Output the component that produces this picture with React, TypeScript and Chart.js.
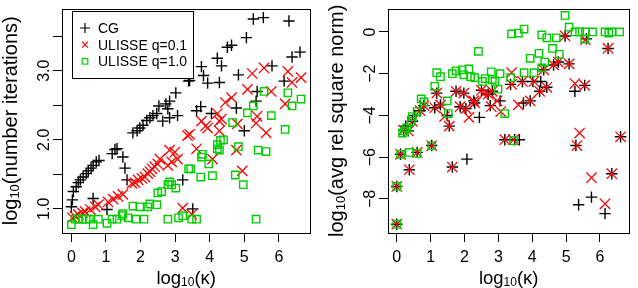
import React, { useEffect, useRef } from "react";
import { Chart, registerables } from "chart.js";
Chart.register(...registerables);

const FONT = '"Liberation Sans", Arial, Helvetica, sans-serif';
const COL_CG = "#000000";
const COL_U01 = "#ff0000";
const COL_U10 = "#00cd00";
const seriesNames = ["CG", "ULISSE q=0.1", "ULISSE q=1.0"];

const xTicks = [0, 1, 2, 3, 4, 5, 6];
const leftYTicks = [1.0, 1.5, 2.0, 2.5, 3.0, 3.5];
const leftYTickLabels = ["1.0", "", "2.0", "", "3.0", ""];
const rightYTicks = [-8, -6, -4, -2, 0];
const rightYTickLabels = ["\u22128", "\u22126", "\u22124", "\u22122", "0"];

type Pt = [number, number];

// Left panel: log10(kappa) vs log10(number iterations)
const leftCG: Pt[] = [
  [0, 1.03], [0.03, 1.13], [0.06, 1.25], [0.14, 1.32], [0.2, 1.38], [0.26, 1.42], [0.34, 1.46],
  [0.43, 1.51], [0.49, 1.55], [0.57, 1.59], [0.63, 1.63], [0.72, 1.68], [0.8, 1.7], [1.18, 1.8],
  [1.26, 1.86], [1.32, 1.87], [1.49, 1.75], [1.55, 1.59], [0.63, 1.15], [1.03, 0.99], [1.61, 1.42],
  [3.22, 1.42], [3.51, 1.0], [1.78, 2.1], [1.9, 2.13], [1.98, 2.17], [2.07, 2.21], [2.18, 2.28],
  [2.27, 2.32], [2.36, 2.35], [2.47, 2.38], [2.64, 2.27], [2.84, 2.32], [3.07, 2.35], [2.53, 2.49],
  [2.73, 2.52], [2.79, 2.45], [2.84, 2.56], [3.02, 2.68], [3.39, 2.85], [3.42, 2.86], [3.62, 2.42],
  [3.74, 2.48], [4.05, 2.38], [3.76, 3.06], [3.82, 2.93], [3.94, 2.82], [4.22, 3.18], [4.34, 3.07],
  [4.28, 2.83], [4.51, 3.34], [4.63, 3.37], [4.77, 2.46], [4.83, 2.94], [5.0, 2.13], [5.06, 3.48],
  [5.26, 3.75], [5.55, 3.77], [5.34, 2.56], [5.37, 2.7], [5.8, 3.07], [6.15, 2.85], [6.29, 3.72],
  [6.38, 3.2], [6.61, 3.27],
];
const leftU01: Pt[] = [
  [5.23, 2.96], [5.57, 3.04], [6.26, 2.99], [6.64, 2.9], [6.38, 2.83], [5.09, 2.73], [5.78, 2.7],
  [4.63, 2.61], [4.45, 2.54], [6.18, 2.52], [4.22, 2.38], [4.34, 2.3], [4.28, 2.27], [3.76, 2.27],
  [3.88, 2.2], [3.94, 2.17], [4.8, 2.23], [5.37, 2.34], [5.34, 2.24], [5.63, 2.1], [4.28, 2.13],
  [3.36, 2.06], [3.42, 2.08], [3.62, 1.87], [4.77, 1.85], [4.08, 1.72], [4.94, 1.55], [2.84, 1.85],
  [2.99, 1.82], [3.07, 1.72], [2.9, 1.68], [2.79, 1.63], [2.56, 1.72], [2.5, 1.65], [2.41, 1.61],
  [2.33, 1.58], [2.27, 1.54], [2.21, 1.51], [2.13, 1.46], [2.04, 1.44], [1.93, 1.42], [1.84, 1.38],
  [1.75, 1.37], [1.49, 1.21], [1.35, 1.18], [1.21, 1.14], [1.06, 1.1], [0.78, 1.06], [0.69, 1.03],
  [0.55, 0.99], [0.4, 0.96], [0.32, 0.94], [0.2, 0.92], [0.11, 0.89], [0.03, 0.87], [3.22, 1.01],
  [3.48, 0.92],
];
const leftU10: Pt[] = [
  [5.57, 2.7], [6.26, 2.68], [5.26, 2.49], [6.38, 2.49], [6.64, 2.59], [5.09, 2.39], [5.78, 2.35],
  [4.66, 2.25], [6.18, 2.15], [4.83, 1.9], [4.4, 2.0], [4.31, 1.99], [4.22, 1.93], [4.22, 1.87],
  [4.28, 1.85], [5.4, 1.85], [5.63, 1.83], [3.79, 1.79], [3.76, 1.75], [3.97, 1.65], [3.39, 1.58],
  [3.45, 1.58], [3.74, 1.46], [4.08, 1.48], [4.74, 1.49], [4.97, 1.35], [2.84, 1.39], [2.79, 1.35],
  [2.9, 1.35], [3.02, 1.3], [2.61, 1.25], [2.5, 1.23], [1.78, 1.04], [1.98, 1.03], [2.27, 1.07],
  [2.21, 1.03], [2.47, 1.06], [1.49, 0.93], [1.47, 0.9], [3.22, 0.9], [3.1, 0.87], [2.79, 0.85],
  [1.64, 0.87], [1.87, 0.85], [2.1, 0.85], [1.18, 0.85], [1.32, 0.85], [1.03, 0.79], [3.48, 0.85],
  [3.62, 0.85], [5.34, 0.85], [0, 0.77], [0.11, 0.85], [0.2, 0.85], [0.32, 0.85], [0.43, 0.85],
  [0.52, 0.85], [0.63, 0.77], [0.78, 0.85],
];

// Right panel: log10(kappa) vs log10(avg rel square norm)
const rightCG: Pt[] = [
  [0, -9.21], [0, -7.4], [0.11, -5.86], [0.37, -6.6], [0.6, -5.77], [1.03, -5.44], [0.2, -4.7],
  [0.34, -4.74], [0.26, -4.51], [0.46, -4.28], [0.52, -4.0], [0.69, -3.77], [0.8, -3.53],
  [1.12, -3.63], [1.29, -3.49], [1.18, -2.93], [1.49, -4.0], [1.55, -4.51], [1.75, -2.84],
  [1.98, -2.93], [1.87, -3.58], [2.04, -3.67], [2.27, -3.3], [2.3, -3.4], [2.44, -4.09],
  [2.5, -2.79], [2.7, -2.98], [2.82, -2.84], [2.76, -3.53], [3.05, -3.3], [3.36, -2.51],
  [3.71, -2.37], [3.74, -3.4], [4.02, -2.37], [4.25, -2.37], [4.22, -2.84], [4.43, -2.65],
  [4.34, -1.81], [4.63, -1.58], [4.77, -1.44], [5.09, -1.53], [4.97, -0.19], [5.6, -0.33],
  [6.24, -0.79], [5.26, -2.84], [5.55, -2.56], [3.19, -5.16], [3.48, -5.16], [3.62, -5.16],
  [3.94, -3.3], [5.29, -5.44], [6.61, -5.02], [1.64, -6.47], [2.07, -6.09], [6.35, -6.79],
  [5.75, -7.91], [5.37, -8.28], [6.15, -8.7],
];
const rightU01: Pt[] = [
  [0, -9.21], [0, -7.4], [0.11, -5.86], [0.37, -6.6], [0.6, -5.77], [1.03, -5.44], [0.2, -4.7],
  [0.34, -4.74], [0.46, -4.28], [0.69, -3.77], [0.8, -3.53], [1.12, -3.63], [1.29, -3.49],
  [1.18, -2.93], [1.41, -4.05], [1.55, -4.51], [1.75, -2.84], [1.98, -2.93], [1.87, -3.58],
  [2.04, -3.67], [2.13, -4.09], [2.27, -3.3], [2.3, -3.4], [2.5, -2.79], [2.56, -2.98],
  [2.7, -2.98], [2.82, -2.84], [2.79, -3.58], [2.96, -3.3], [3.07, -3.81], [3.39, -1.95],
  [3.39, -2.51], [3.59, -3.49], [3.71, -2.37], [3.94, -3.3], [4.05, -2.37], [4.22, -2.84],
  [4.43, -2.65], [4.34, -1.81], [4.63, -1.58], [4.77, -1.44], [5.09, -1.53], [4.97, -0.19],
  [5.57, -0.37], [6.24, -0.79], [5.26, -2.47], [5.55, -2.56], [5.4, -4.84], [5.32, -5.44],
  [3.19, -5.16], [3.45, -5.16], [6.61, -5.02], [1.64, -6.47], [6.35, -6.79], [5.75, -6.98],
  [6.15, -8.23],
];
const rightU10: Pt[] = [
  [0, -9.21], [0, -7.4], [0.11, -5.86], [0.37, -5.77], [0.6, -5.81], [1.03, -5.44], [0.17, -4.84],
  [0.23, -4.74], [0.29, -4.6], [0.43, -4.28], [0.46, -4.05], [0.6, -3.81], [0.72, -3.21],
  [0.8, -3.35], [1.12, -2.6], [1.18, -1.95], [1.29, -2.14], [1.49, -3.3], [1.52, -3.91],
  [1.64, -2.0], [1.75, -1.86], [1.93, -1.81], [2.13, -1.77], [1.98, -2.05], [2.18, -2.14],
  [2.3, -2.19], [2.41, -0.93], [2.53, -2.37], [2.61, -2.23], [2.79, -1.91], [2.82, -2.28],
  [2.9, -2.37], [2.99, -2.74], [3.05, -2.0], [3.19, -3.91], [3.36, -2.19], [3.39, -0.09],
  [3.59, -0.05], [3.76, 0.14], [3.76, -1.95], [3.94, -1.26], [4.05, -1.95], [4.2, -1.02],
  [4.28, -0.14], [4.28, -1.72], [4.37, -1.44], [4.43, -0.28], [4.6, -0.79], [4.71, -0.28],
  [4.8, -1.07], [4.97, 0.79], [5.09, 0.23], [5.26, 0], [5.4, 0], [5.57, 0], [5.78, 0],
  [5.55, -0.33], [6.15, 0], [6.26, -0.05], [6.35, 0], [6.58, 0], [3.45, -5.21],
];

interface PanelCfg {
  xMin: number; xMax: number; yMin: number; yMax: number;
  yTicks: number[]; yTickLabels: string[]; yTitleRest: string;
  cg: Pt[]; u01: Pt[]; u10: Pt[];
  axisLeft: number; padRight: number; legend: boolean;
}

const leftCfg: PanelCfg = {
  xMin: -0.27, xMax: 6.91, yMin: 0.65, yMax: 3.9,
  yTicks: leftYTicks, yTickLabels: leftYTickLabels, yTitleRest: "(number iterations)",
  cg: leftCG, u01: leftU01, u10: leftU10, axisLeft: 62, padRight: 8, legend: true,
};
const rightCfg: PanelCfg = {
  xMin: -0.26, xMax: 6.87, yMin: -9.63, yMax: 1.12,
  yTicks: rightYTicks, yTickLabels: rightYTickLabels, yTitleRest: "(avg rel square norm)",
  cg: rightCG, u01: rightU01, u10: rightU10, axisLeft: 69, padRight: 2, legend: false,
};

function drawLogTitle(ctx: CanvasRenderingContext2D, rest: string, px: number, py: number, rotate: boolean, size: number) {
  ctx.save();
  ctx.fillStyle = "#000";
  const big = `${size}px ${FONT}`;
  const small = `${Math.round(size * 0.66)}px ${FONT}`;
  ctx.font = big;
  const w1 = ctx.measureText("log").width;
  const w3 = ctx.measureText(rest).width;
  ctx.font = small;
  const w2 = ctx.measureText("10").width;
  const total = w1 + w2 + w3;
  ctx.translate(px, py);
  if (rotate) ctx.rotate(-Math.PI / 2);
  ctx.textBaseline = "alphabetic";
  ctx.textAlign = "left";
  let x = -total / 2;
  ctx.font = big;
  ctx.fillText("log", x, 0);
  x += w1;
  ctx.font = small;
  ctx.fillText("10", x, 2);
  x += w2;
  ctx.font = big;
  ctx.fillText(rest, x, 0);
  ctx.restore();
}

function makeDecor(cfg: PanelCfg) {
  return {
    id: "decor",
    afterDatasetsDraw(chart: any) {
      const ctx: CanvasRenderingContext2D = chart.ctx;
      const a = chart.chartArea;
      const ys = chart.scales.y;
      ctx.save();
      // plot box
      ctx.strokeStyle = "#000";
      ctx.lineWidth = 1;
      const l = Math.round(a.left), t = Math.round(a.top), r = Math.round(a.right), b = Math.round(a.bottom);
      ctx.strokeRect(l + 0.5, t + 0.5, r - l, b - t);
      // y tick labels (rotated, R style)
      ctx.fillStyle = "#000";
      ctx.font = `16px ${FONT}`;
      ctx.textAlign = "center";
      ctx.textBaseline = "alphabetic";
      cfg.yTicks.forEach((v, i) => {
        const lab = cfg.yTickLabels[i];
        if (!lab) return;
        const py = ys.getPixelForValue(v);
        ctx.save();
        ctx.translate(a.left - 13, py);
        ctx.rotate(-Math.PI / 2);
        ctx.fillText(lab, 0, 0);
        ctx.restore();
      });
      // axis titles
      drawLogTitle(ctx, "(\u03ba)", (a.left + a.right) / 2, 284, false, 18.5);
      drawLogTitle(ctx, cfg.yTitleRest, a.left - 45, (a.top + a.bottom) / 2, true, 20);
      // legend
      if (cfg.legend) {
        const lx = l + 10, ly = t + 2, lw = 121, lh = 67;
        ctx.fillStyle = "#fff";
        ctx.fillRect(lx, ly, lw, lh);
        ctx.strokeStyle = "#000";
        ctx.strokeRect(lx + 0.5, ly + 0.5, lw, lh);
        const sx = l + 23;
        const rows = [t + 19, t + 35.7, t + 52.3];
        ctx.lineWidth = 1.2;
        ctx.strokeStyle = COL_CG;
        ctx.beginPath();
        ctx.moveTo(sx - 5, rows[0]); ctx.lineTo(sx + 5, rows[0]);
        ctx.moveTo(sx, rows[0] - 5); ctx.lineTo(sx, rows[0] + 5);
        ctx.stroke();
        ctx.strokeStyle = COL_U01;
        ctx.beginPath();
        ctx.moveTo(sx - 3, rows[1] - 3); ctx.lineTo(sx + 3, rows[1] + 3);
        ctx.moveTo(sx - 3, rows[1] + 3); ctx.lineTo(sx + 3, rows[1] - 3);
        ctx.stroke();
        ctx.strokeStyle = COL_U10;
        ctx.strokeRect(sx - 2.8, rows[2] - 2.8, 5.6, 5.6);
        ctx.fillStyle = "#000";
        ctx.font = `14px ${FONT}`;
        ctx.textAlign = "left";
        ctx.textBaseline = "alphabetic";
        seriesNames.forEach((n, i) => ctx.fillText(n, l + 36, rows[i] + 5));
      }
      ctx.restore();
    },
  };
}

function Panel({ cfg, left }: { cfg: PanelCfg; left: number }) {
  const ref = useRef<HTMLCanvasElement>(null);
  useEffect(() => {
    const toData = (arr: Pt[]) => arr.map(([x, y]) => ({ x, y }));
    const grid = { display: true, drawOnChartArea: false, drawTicks: true, tickLength: 9, color: "#000", lineWidth: 1 };
    const chart = new Chart(ref.current!, {
      type: "scatter",
      data: {
        datasets: [
          { label: seriesNames[0], data: toData(cfg.cg), pointStyle: "cross", pointRadius: 5.7, borderColor: COL_CG, backgroundColor: COL_CG, borderWidth: 1.4, order: 3 },
          { label: seriesNames[1], data: toData(cfg.u01), pointStyle: "crossRot", pointRadius: 7.3, borderColor: COL_U01, backgroundColor: COL_U01, borderWidth: 1.3, order: 2 },
          { label: seriesNames[2], data: toData(cfg.u10), pointStyle: "rect", pointRadius: 5.2, borderColor: COL_U10, backgroundColor: "rgba(0,0,0,0)", borderWidth: 1.4, order: 1 },
        ],
      } as any,
      options: {
        animation: false,
        responsive: false,
        devicePixelRatio: 1,
        layout: { padding: { top: 2, right: cfg.padRight, bottom: 0, left: 0 } },
        plugins: { legend: { display: false }, tooltip: { enabled: false } },
        scales: {
          x: {
            type: "linear", position: "bottom", min: cfg.xMin, max: cfg.xMax, bounds: "data",
            afterBuildTicks: (s: any) => { s.ticks = xTicks.map((v) => ({ value: v })); },
            afterFit: (s: any) => { s.height = 55; },
            grid, border: { display: false },
            ticks: { color: "#000", font: { family: FONT, size: 16 }, padding: 6, maxRotation: 0, minRotation: 0, autoSkip: false, callback: (v: any) => String(v) },
          },
          y: {
            type: "linear", position: "left", min: cfg.yMin, max: cfg.yMax, bounds: "data",
            afterBuildTicks: (s: any) => { s.ticks = cfg.yTicks.map((v) => ({ value: v })); },
            afterFit: (s: any) => { s.width = cfg.axisLeft; },
            grid, border: { display: false },
            ticks: { display: false },
          },
        },
      } as any,
      plugins: [makeDecor(cfg)],
    });
    return () => chart.destroy();
  }, [cfg]);
  return (
    <canvas ref={ref} width={319} height={288}
      style={{ position: "absolute", left, top: 0, width: 319, height: 288, display: "block" }} />
  );
}

export default function App() {
  return (
    <div style={{ position: "fixed", left: 0, top: 0, width: 638, height: 288, background: "#fff", overflow: "hidden" }}>
      <Panel cfg={leftCfg} left={0} />
      <Panel cfg={rightCfg} left={319} />
    </div>
  );
}
